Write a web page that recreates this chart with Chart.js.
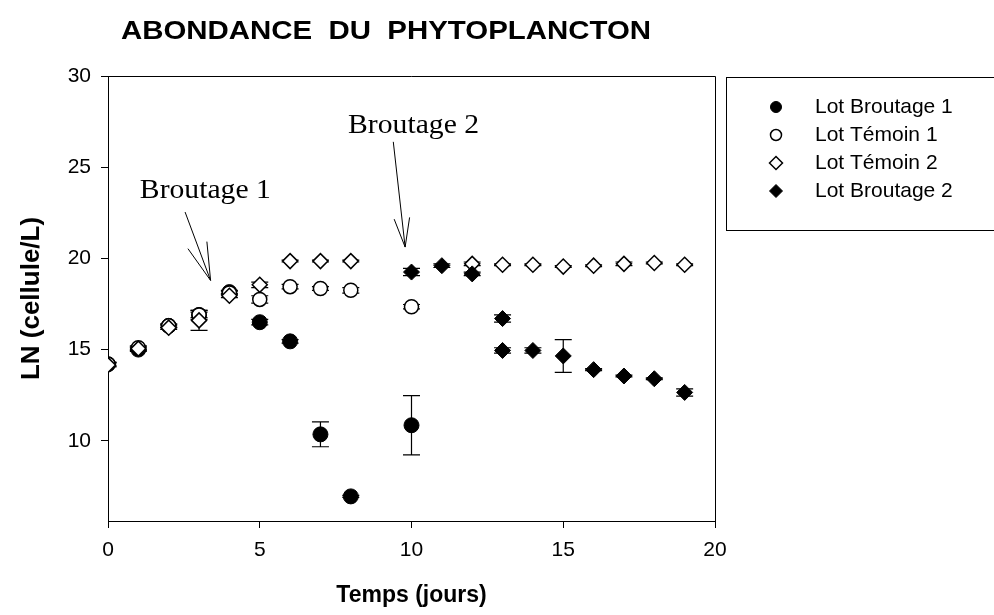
<!DOCTYPE html>
<html>
<head>
<meta charset="utf-8">
<title>Abondance du phytoplancton</title>
<script src="https://cdn.jsdelivr.net/npm/chart.js@4.4.0/dist/chart.umd.min.js"></script>
<style>
  html, body { margin: 0; padding: 0; background: #fff; }
</style>
</head>
<body>
<canvas id="myChart" width="994" height="615"></canvas>
<script>
// jours de prélèvement et valeurs moyennes (LN cellule/L) avec écarts
const daysBroutage1 = [0, 1, 2, 3, 4, 5, 6, 7, 8, 10];
const broutage1 = [14.2, 15.0, 16.3, 16.9, 18.15, 16.5, 15.45, 10.35, 6.95, 10.85];
const broutage1Err = [0.1, 0.1, 0.1, 0.15, 0.1, 0.15, 0.1, 0.68, 0.05, 1.62];

const daysTemoin1 = [0, 1, 2, 3, 4, 5, 6, 7, 8, 10];
const temoin1 = [14.2, 15.1, 16.3, 16.9, 18.1, 17.75, 18.45, 18.35, 18.25, 17.35];
const temoin1Err = [0.1, 0.1, 0.1, 0.25, 0.1, 0.2, 0.12, 0.1, 0.15, 0.12];

const daysTemoin2 = [0, 1, 2, 3, 4, 5, 6, 7, 8, 12, 13, 14, 15, 16, 17, 18, 19];
const temoin2 = [14.15, 15.05, 16.2, 16.6, 17.95, 18.55, 19.85, 19.85, 19.85, 19.7, 19.65, 19.65, 19.55, 19.6, 19.7, 19.75, 19.65];
const temoin2Err = [0.1, 0.1, 0.1, 0.55, 0.1, 0.15, 0.05, 0.05, 0.05, 0.1, 0.05, 0.05, 0.05, 0.05, 0.1, 0.05, 0.05];

const daysBroutage2 = [10, 11, 12, 13, 13, 14, 15, 16, 17, 18, 19];
const broutage2 = [19.25, 19.6, 19.15, 16.7, 14.95, 14.95, 14.65, 13.9, 13.55, 13.4, 12.65];
const broutage2Err = [0.2, 0.1, 0.1, 0.2, 0.15, 0.15, 0.9, 0.05, 0.05, 0.05, 0.2];

const xTicks = [0, 5, 10, 15, 20];
const yTicks = [10, 15, 20, 25, 30];

// flèches d'annotation, en unités de données (jour, LN)
const annotations = [
  { text: "Broutage 1", textAt: [1.05, 23.3], from: [2.54, 22.54], to: [3.38, 18.79], head: 39 },
  { text: "Broutage 2", textAt: [7.91, 26.87], from: [9.40, 26.39], to: [9.79, 20.62], head: 30 },
];

const SANS = "'Liberation Sans', Arial, sans-serif";
const SERIF = "'Liberation Serif', 'Times New Roman', serif";

const points = (xs, ys, errs) => xs.map((x, i) => ({ x: x, y: ys[i], err: errs[i] }));

// texte étiré horizontalement jusqu'à une largeur donnée
const stretchText = (ctx, text, x, y, width) => {
  const w = ctx.measureText(text).width;
  ctx.save();
  ctx.translate(x, y);
  ctx.scale(width / w, 1);
  ctx.fillText(text, 0, 0);
  ctx.restore();
};

// barres d'erreur sous les symboles
const errorBars = {
  id: "errorBars",
  beforeDatasetsDraw(chart) {
    const ctx = chart.ctx;
    const yScale = chart.scales.y;
    const area = chart.chartArea;
    ctx.save();
    ctx.beginPath();
    ctx.rect(area.left, area.top, area.right - area.left, area.bottom - area.top);
    ctx.clip();
    ctx.strokeStyle = "#000";
    ctx.lineWidth = 1.2;
    chart.data.datasets.forEach((ds, i) => {
      const meta = chart.getDatasetMeta(i);
      meta.data.forEach((pt, j) => {
        const d = ds.data[j];
        const x = pt.x;
        const top = yScale.getPixelForValue(d.y + d.err);
        const bottom = yScale.getPixelForValue(d.y - d.err);
        ctx.beginPath();
        ctx.moveTo(x, top);
        ctx.lineTo(x, bottom);
        ctx.moveTo(x - 8.5, top);
        ctx.lineTo(x + 8.5, top);
        ctx.moveTo(x - 8.5, bottom);
        ctx.lineTo(x + 8.5, bottom);
        ctx.stroke();
      });
    });
    ctx.restore();
  },
};

// titre, cadre, flèches et légende encadrée
const decorations = {
  id: "decorations",
  afterDraw(chart) {
    const ctx = chart.ctx;
    const { left, right, top, bottom } = chart.chartArea;
    const xs = chart.scales.x;
    const ys = chart.scales.y;
    ctx.save();

    // cadre haut et droit
    ctx.strokeStyle = "#000";
    ctx.lineWidth = 1;
    ctx.beginPath();
    ctx.moveTo(left, top + 0.5);
    ctx.lineTo(right + 0.5, top + 0.5);
    ctx.lineTo(right + 0.5, bottom + 4);
    ctx.stroke();

    // titre
    ctx.fillStyle = "#000";
    ctx.font = "bold 25px " + SANS;
    ctx.textBaseline = "middle";
    ctx.textAlign = "left";
    stretchText(ctx, "ABONDANCE  DU  PHYTOPLANCTON", 121, 32, 530);

    // flèches
    annotations.forEach((a) => {
      const tx = xs.getPixelForValue(a.textAt[0]);
      const ty = ys.getPixelForValue(a.textAt[1]);
      ctx.font = "27px " + SERIF;
      ctx.textBaseline = "alphabetic";
      stretchText(ctx, a.text, tx, ty, 131);

      const x0 = xs.getPixelForValue(a.from[0]);
      const y0 = ys.getPixelForValue(a.from[1]);
      const x1 = xs.getPixelForValue(a.to[0]);
      const y1 = ys.getPixelForValue(a.to[1]);
      const ang = Math.atan2(y0 - y1, x0 - x1);
      const spread = 15 * Math.PI / 180;
      ctx.lineWidth = 1;
      ctx.beginPath();
      ctx.moveTo(x0, y0);
      ctx.lineTo(x1, y1);
      ctx.moveTo(x1 + a.head * Math.cos(ang - spread), y1 + a.head * Math.sin(ang - spread));
      ctx.lineTo(x1, y1);
      ctx.lineTo(x1 + a.head * Math.cos(ang + spread), y1 + a.head * Math.sin(ang + spread));
      ctx.stroke();
    });

    // légende
    const boxX = 726.5, boxY = 77.5, boxH = 153;
    ctx.strokeStyle = "#000";
    ctx.lineWidth = 1;
    ctx.strokeRect(boxX, boxY, 300, boxH);
    ctx.font = "21px " + SANS;
    ctx.textBaseline = "middle";
    const rowY = [107, 135, 163, 191];
    const mx = 776;
    chart.data.datasets.forEach((ds, i) => {
      const y = rowY[i];
      ctx.fillStyle = ds.backgroundColor;
      ctx.strokeStyle = ds.borderColor;
      ctx.lineWidth = ds.borderWidth;
      ctx.beginPath();
      if (ds.pointStyle === "circle") {
        ctx.arc(mx, y, 5.5, 0, Math.PI * 2);
      } else {
        ctx.moveTo(mx - 6.5, y);
        ctx.lineTo(mx, y - 6.5);
        ctx.lineTo(mx + 6.5, y);
        ctx.lineTo(mx, y + 6.5);
        ctx.closePath();
      }
      ctx.fill();
      ctx.stroke();
      ctx.fillStyle = "#000";
      ctx.fillText(ds.label, 815, y);
    });

    ctx.restore();
  },
};

const ctx = document.getElementById("myChart");

new Chart(ctx, {
  type: "scatter",
  data: {
    datasets: [
      {
        label: "Lot Broutage 1",
        data: points(daysBroutage1, broutage1, broutage1Err),
        pointStyle: "circle",
        pointRadius: 7.5,
        backgroundColor: "#000",
        borderColor: "#000",
        borderWidth: 1,
        order: 4,
      },
      {
        label: "Lot Témoin 1",
        data: points(daysTemoin1, temoin1, temoin1Err),
        pointStyle: "circle",
        pointRadius: 7,
        backgroundColor: "#fff",
        borderColor: "#000",
        borderWidth: 1.5,
        order: 3,
      },
      {
        label: "Lot Témoin 2",
        data: points(daysTemoin2, temoin2, temoin2Err),
        pointStyle: "rectRot",
        pointRadius: 7.5,
        backgroundColor: "#fff",
        borderColor: "#000",
        borderWidth: 1.5,
        order: 2,
      },
      {
        label: "Lot Broutage 2",
        data: points(daysBroutage2, broutage2, broutage2Err),
        pointStyle: "rectRot",
        pointRadius: 8,
        backgroundColor: "#000",
        borderColor: "#000",
        borderWidth: 1,
        order: 1,
      },
    ],
  },
  options: {
    responsive: false,
    animation: false,
    events: [],
    layout: {
      padding: { left: 0, top: 76, right: 279, bottom: 0 },
    },
    plugins: {
      legend: { display: false },
      tooltip: { enabled: false },
    },
    scales: {
      x: {
        type: "linear",
        min: 0,
        max: 20,
        afterBuildTicks: (scale) => {
          scale.ticks = xTicks.map((v) => ({ value: v }));
        },
        afterFit: (scale) => {
          scale.height = 94;
        },
        grid: {
          drawOnChartArea: false, // pas de quadrillage
          color: "#000",
          tickLength: 7,
        },
        border: { color: "#000", width: 1 },
        ticks: {
          color: "#000",
          padding: 10,
          maxRotation: 0,
          font: { family: SANS, size: 21 },
        },
        title: {
          display: true,
          text: "Temps (jours)",
          color: "#000",
          padding: { bottom: 6 },
          font: { family: SANS, size: 23, weight: "bold" },
        },
      },
      y: {
        type: "linear",
        min: 5.6,
        max: 30,
        afterBuildTicks: (scale) => {
          scale.ticks = yTicks.map((v) => ({ value: v }));
        },
        afterFit: (scale) => {
          scale.width = 108;
        },
        grid: {
          drawOnChartArea: false,
          color: "#000",
          tickLength: 7,
        },
        border: { color: "#000", width: 1 },
        ticks: {
          color: "#000",
          padding: 10,
          font: { family: SANS, size: 21 },
        },
        title: {
          display: true,
          text: "LN (cellule/L)",
          color: "#000",
          padding: { top: 16 },
          font: { family: SANS, size: 26, weight: "bold" },
        },
      },
    },
  },
  plugins: [errorBars, decorations],
});
</script>
</body>
</html>
